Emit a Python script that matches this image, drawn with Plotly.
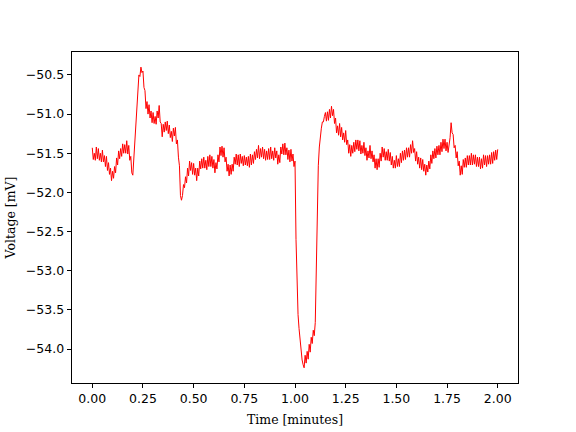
import numpy as np
import plotly.graph_objects as go

# Sample grid (minutes), 0.005 min step
time_min = np.round(np.arange(401) * 0.005, 3)

# Voltage readings (mV), 10 samples per 0.05 min
voltage_mv = [
    -51.43, -51.58, -51.50, -51.59, -51.42, -51.57, -51.44, -51.59, -51.50, -51.61,
    -51.46, -51.61, -51.53, -51.67, -51.54, -51.72, -51.62, -51.77, -51.69, -51.85,
    -51.73, -51.82, -51.67, -51.75, -51.56, -51.65, -51.47, -51.57, -51.44, -51.54,
    -51.38, -51.50, -51.39, -51.50, -51.34, -51.51, -51.40, -51.59, -51.54, -51.75,
    -51.78, -51.58, -51.36, -51.07, -50.84, -50.68, -50.50, -50.52, -50.40, -50.47,
    -50.45, -50.66, -50.70, -50.93, -50.84, -51.00, -50.88, -51.05, -50.96, -51.11,
    -50.98, -51.12, -51.03, -51.13, -50.96, -51.05, -50.89, -51.10, -51.12, -51.29,
    -51.13, -51.23, -51.10, -51.21, -51.09, -51.25, -51.14, -51.30, -51.22, -51.35,
    -51.18, -51.28, -51.17, -51.38, -51.33, -51.55, -51.66, -52.04, -52.10, -52.04,
    -51.90, -51.94, -51.80, -51.88, -51.69, -51.79, -51.60, -51.72, -51.62, -51.77,
    -51.63, -51.78, -51.69, -51.85, -51.69, -51.79, -51.60, -51.70, -51.57, -51.69,
    -51.55, -51.69, -51.59, -51.71, -51.54, -51.67, -51.52, -51.67, -51.54, -51.69,
    -51.58, -51.75, -51.62, -51.70, -51.52, -51.61, -51.42, -51.53, -51.41, -51.55,
    -51.43, -51.61, -51.55, -51.73, -51.64, -51.79, -51.65, -51.77, -51.64, -51.73,
    -51.55, -51.64, -51.51, -51.65, -51.52, -51.67, -51.51, -51.63, -51.54, -51.66,
    -51.53, -51.65, -51.55, -51.66, -51.54, -51.68, -51.51, -51.65, -51.52, -51.63,
    -51.48, -51.58, -51.45, -51.56, -51.40, -51.57, -51.44, -51.55, -51.42, -51.57,
    -51.45, -51.59, -51.47, -51.58, -51.44, -51.58, -51.42, -51.57, -51.47, -51.59,
    -51.43, -51.56, -51.47, -51.64, -51.52, -51.62, -51.42, -51.51, -51.38, -51.52,
    -51.37, -51.52, -51.43, -51.58, -51.46, -51.61, -51.45, -51.60, -51.51, -51.67,
    -51.60, -52.60, -53.20, -53.56, -53.74, -53.90, -54.00, -54.14, -54.20, -54.24,
    -54.08, -54.18, -54.03, -54.13, -53.94, -54.04, -53.85, -53.93, -53.76, -53.83,
    -53.66, -52.80, -52.20, -51.66, -51.42, -51.26, -51.18, -51.10, -51.10, -51.03,
    -50.98, -51.09, -50.97, -51.08, -50.94, -51.05, -50.90, -51.02, -50.94, -51.12,
    -51.05, -51.24, -51.15, -51.27, -51.12, -51.29, -51.17, -51.33, -51.24, -51.36,
    -51.21, -51.39, -51.33, -51.50, -51.39, -51.54, -51.40, -51.50, -51.36, -51.48,
    -51.33, -51.45, -51.33, -51.47, -51.34, -51.51, -51.40, -51.50, -51.36, -51.53,
    -51.43, -51.59, -51.47, -51.56, -51.40, -51.57, -51.47, -51.61, -51.52, -51.69,
    -51.57, -51.71, -51.57, -51.68, -51.50, -51.60, -51.42, -51.55, -51.44, -51.59,
    -51.48, -51.59, -51.45, -51.60, -51.49, -51.65, -51.54, -51.69, -51.59, -51.69,
    -51.53, -51.67, -51.57, -51.67, -51.50, -51.62, -51.47, -51.59, -51.46, -51.58,
    -51.43, -51.55, -51.43, -51.55, -51.39, -51.50, -51.34, -51.49, -51.44, -51.60,
    -51.48, -51.64, -51.55, -51.69, -51.56, -51.71, -51.58, -51.73, -51.64, -51.78,
    -51.65, -51.74, -51.60, -51.70, -51.52, -51.63, -51.47, -51.57, -51.44, -51.56,
    -51.41, -51.52, -51.40, -51.52, -51.36, -51.48, -51.32, -51.44, -51.32, -51.47,
    -51.36, -51.49, -51.40, -51.30, -51.11, -51.24, -51.26, -51.43, -51.40, -51.56,
    -51.48, -51.66, -51.60, -51.78, -51.66, -51.77, -51.58, -51.68, -51.56, -51.68,
    -51.53, -51.65, -51.53, -51.65, -51.50, -51.65, -51.52, -51.64, -51.52, -51.67,
    -51.55, -51.67, -51.55, -51.70, -51.57, -51.69, -51.52, -51.65, -51.53, -51.67,
    -51.53, -51.64, -51.52, -51.64, -51.49, -51.63, -51.48, -51.59, -51.46, -51.58,
    -51.45,
]

x_ticks = [0.0, 0.25, 0.5, 0.75, 1.0, 1.25, 1.5, 1.75, 2.0]
y_ticks = [-54.0, -53.5, -53.0, -52.5, -52.0, -51.5, -51.0, -50.5]

fig = go.Figure()
fig.add_trace(go.Scatter(
    x=time_min, y=voltage_mv, mode="lines",
    line=dict(color="#ff0000", width=1),
    showlegend=False,
))

tick_font = dict(family="DejaVu Sans", size=12.5, color="black")
label_font = dict(family="DejaVu Serif", size=12.5, color="black")

fig.update_layout(
    width=576, height=432,
    margin=dict(l=72, r=58, t=52, b=49),
    paper_bgcolor="white", plot_bgcolor="white",
)
fig.update_xaxes(
    range=[-0.1, 2.1], tickvals=x_ticks, tickformat=".2f",
    showline=True, linecolor="black", linewidth=1, mirror=True,
    ticks="outside", ticklen=4.4, tickwidth=1, tickcolor="black",
    showgrid=False, zeroline=False, tickfont=tick_font, automargin=False,
    title=dict(text="Time [minutes]", font=label_font, standoff=9),
)
fig.update_yaxes(
    range=[-54.434, -50.207], tickvals=y_ticks, tickformat=".1f",
    showline=True, linecolor="black", linewidth=1, mirror=True,
    ticks="outside", ticklen=4.4, tickwidth=1, tickcolor="black",
    showgrid=False, zeroline=False, tickfont=tick_font, automargin=False,
    title=dict(text="Voltage [mV]", font=label_font, standoff=7),
)

fig.write_html("out.html", config={"displayModeBar": False},
               post_script="document.body.style.margin='0';")
